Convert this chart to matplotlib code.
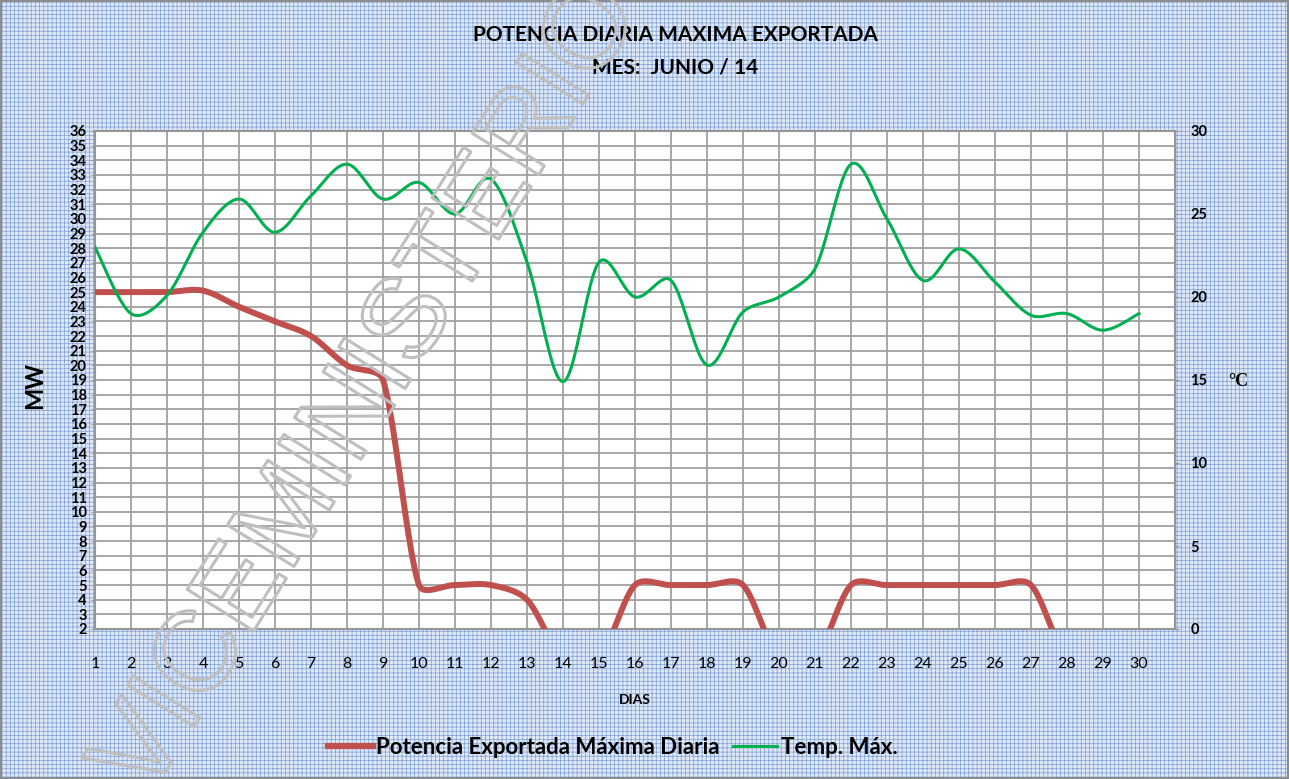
#!/usr/bin/env python3
import numpy as np
import matplotlib
matplotlib.use("Agg")
import matplotlib.pyplot as plt
from matplotlib.patches import Rectangle
from matplotlib.lines import Line2D
import matplotlib.patheffects as pe

days = list(range(1, 31))
potencia_mw = [25, 25, 25, 25.1, 24, 23, 22, 20, 19, 5,
               5, 5, 4, 0, 0, 5, 5, 5, 5, 0,
               0, 5, 5, 5, 5, 5, 5, 0, 0, 0]
temp_max = [23.0, 19.0, 20.1, 23.9, 25.9, 23.9, 26.1, 28.0, 25.9, 26.9,
            25.0, 27.1, 22.1, 14.9, 22.1, 20.0, 21.0, 15.9, 19.1, 20.0,
            21.7, 28.0, 24.7, 21.0, 22.9, 20.9, 18.9, 19.0, 18.0, 19.0]

title_1 = "POTENCIA DIARIA MAXIMA EXPORTADA"
title_2 = "MES:  JUNIO / 14"
label_red = "Potencia Exportada Máxima Diaria"
label_green = "Temp. Máx."

RED = "#c0504d"
GREEN = "#00b050"
FONT = "Lato"


def smooth(ax, x, y, n=24):
    # spreadsheet-style smoothed line: catmull-rom bezier handles in screen
    # space, each handle capped at a third of its segment
    pts = ax.transData.transform(np.column_stack([x, y]))
    m = len(pts)
    out = [pts[0]]
    t = np.linspace(0, 1, n + 1)[1:, None]
    for i in range(m - 1):
        p0, p1 = pts[i], pts[i + 1]
        cap = np.hypot(*(p1 - p0)) / 3
        h0 = (pts[min(i + 1, m - 1)] - pts[max(i - 1, 0)]) / 6
        h1 = (pts[min(i + 2, m - 1)] - pts[i]) / 6
        if np.hypot(*h0) > cap:
            h0 = h0 * cap / np.hypot(*h0)
        if np.hypot(*h1) > cap:
            h1 = h1 * cap / np.hypot(*h1)
        c0 = p0 + h0
        c1 = p1 - h1
        seg = ((1 - t)**3 * p0 + 3 * (1 - t)**2 * t * c0
               + 3 * (1 - t) * t**2 * c1 + t**3 * p1)
        out.extend(seg)
    out = ax.transData.inverted().transform(np.array(out))
    return out[:, 0], out[:, 1]


def main():
    plt.rcParams["font.family"] = [FONT, "DejaVu Sans"]
    plt.rcParams["hatch.linewidth"] = 0.5

    fig = plt.figure(figsize=(12.89, 7.79), dpi=100)
    fig.patch.set_facecolor("#d9e4f4")
    fig.add_artist(Rectangle((0, 0), 1, 1, transform=fig.transFigure,
                             facecolor="#dfe8f6", edgecolor="#7d9fd6",
                             hatch="++++", linewidth=0, zorder=-10))
    fig.add_artist(Rectangle((0.001, 0.001), 0.998, 0.998, transform=fig.transFigure,
                             facecolor="none", edgecolor="#8c8c8c",
                             linewidth=1.5, zorder=-5))

    ax = fig.add_axes([95 / 1289, 1 - 629 / 779, 1080 / 1289, 498 / 779])
    ax.set_facecolor("white")
    ax.set_xlim(1, 31)
    ax.set_ylim(2, 36)
    ax.set_xticks(range(1, 32))
    ax.set_xticklabels([str(d) for d in days] + [""])
    ax.set_yticks(range(2, 37))
    ax.grid(True, color="#a0a0a0", linewidth=1.3)
    ax.set_axisbelow(True)
    for s in ax.spines.values():
        s.set_color("#969696")
        s.set_linewidth(1.5)
    ax.tick_params(axis="x", length=0, pad=20, labelsize=11.5)
    ax.tick_params(axis="y", length=3, color="#969696", pad=3, labelsize=10.5)
    for lab in ax.get_yticklabels():
        lab.set_fontweight("bold")

    ax2 = ax.twinx()
    ax2.set_ylim(0, 30)
    ax2.set_yticks(range(0, 31, 5))
    ax2.tick_params(axis="y", length=3, color="#969696", pad=8, labelsize=10.5)
    for lab in ax2.get_yticklabels():
        lab.set_fontweight("bold")
    for s in ax2.spines.values():
        s.set_visible(False)

    xr, yr = smooth(ax, days, potencia_mw)
    ax.plot(xr, yr, color=RED, linewidth=4.3, solid_capstyle="butt", zorder=3)
    xg, yg = smooth(ax2, days, temp_max)
    ax2.plot(xg, yg, color=GREEN, linewidth=2.2, zorder=3)

    fig.text(675 / 1289, 1 - 35 / 779, title_1, ha="center", va="center",
             fontsize=15, fontweight="bold")
    fig.text(675 / 1289, 1 - 67 / 779, title_2, ha="center", va="center",
             fontsize=15, fontweight="bold")
    fig.text(35 / 1289, 1 - 385 / 779, "MW", rotation=90, ha="center", va="center",
             fontsize=17, fontweight="bold")
    fig.text(1238 / 1289, 1 - 382 / 779, "°C", ha="center", va="center",
             fontsize=13, fontweight="bold", family="Liberation Serif")
    fig.text(635 / 1289, 1 - 700 / 779, "DIAS", ha="center", va="center",
             fontsize=10, fontweight="bold")

    handles = [Line2D([], [], color=RED, linewidth=4.5),
               Line2D([], [], color=GREEN, linewidth=2.2)]
    fig.legend(handles, [label_red, label_green], loc="center",
               bbox_to_anchor=(613 / 1289, 1 - 747 / 779), ncol=2, frameon=False,
               prop={"family": FONT, "weight": "bold", "size": 16},
               handlelength=2.0, handletextpad=0.15, columnspacing=0.6)

    # watermark
    fig.text(370 / 1289, 1 - 390 / 779, "VICEMINISTERIO", rotation=58,
             rotation_mode="anchor", ha="center", va="center", fontsize=82,
             family="Liberation Sans", color="none", zorder=20,
             path_effects=[pe.withStroke(linewidth=2.2, foreground="#bfbfbf")])

    fig.savefig("out.png", dpi=100, facecolor=fig.get_facecolor())


if __name__ == '__main__':
    main()
